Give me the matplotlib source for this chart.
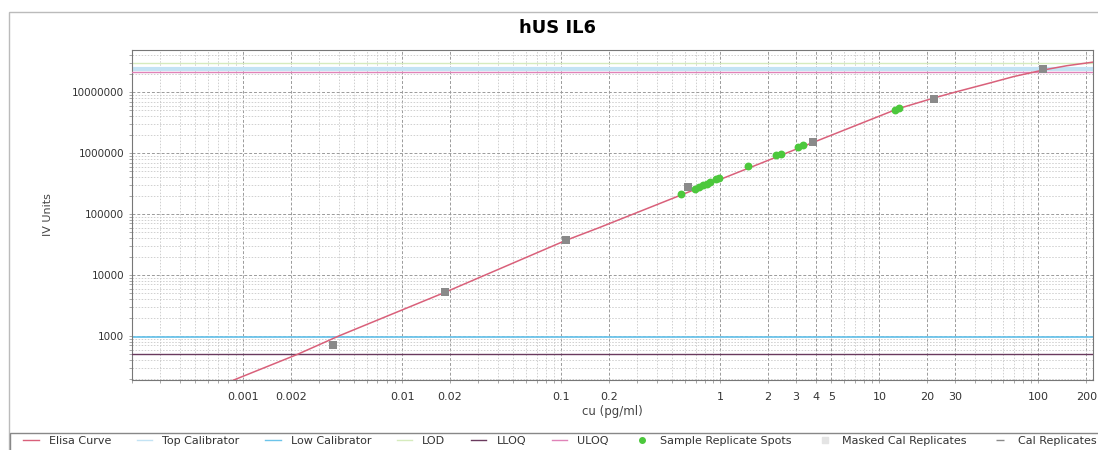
import numpy as np
import matplotlib.pyplot as plt
from matplotlib.patches import Rectangle
from matplotlib.lines import Line2D

# elisa curve (x in pg/ml, y in IV units)
curve_x = [7e-4, 0.0022, 0.004, 0.0186, 0.107, 0.171, 1.0, 3.85, 13, 22, 30, 50, 70, 107, 150, 220]
curve_y = [150, 500, 1000, 5200, 37000, 59000, 3.7e5, 1.5e6, 5.3e6, 8.0e6, 1.0e7, 1.42e7, 1.8e7, 2.3e7, 2.7e7, 3.1e7]

# calibrator replicates
cal_x = [0.0037, 0.0186, 0.107, 0.63, 3.85, 22, 107]
cal_y = [710, 5200, 37000, 2.8e5, 1.5e6, 7.7e6, 2.4e7]

# sample replicate spots
smp_x = [0.569, 0.696, 0.74, 0.782, 0.82, 0.865, 0.944, 0.98, 1.5, 2.25, 2.4, 3.09, 3.33, 12.5, 13.2]
smp_y = [2.13e5, 2.57e5, 2.75e5, 2.98e5, 3.15e5, 3.35e5, 3.75e5, 3.85e5, 6.1e5, 9.3e5, 9.6e5, 1.25e6, 1.35e6, 5.1e6, 5.4e6]

# horizontal limits
top_cal = 2.35e7
low_cal = 950
lod = 3.0e7
lloq = 500
uloq = 2.1e7

xticks = [0.001, 0.002, 0.01, 0.02, 0.1, 0.2, 1, 2, 3, 4, 5, 10, 20, 30, 100, 200]
xlabels = ["0.001", "0.002", "0.01", "0.02", "0.1", "0.2", "1", "2", "3", "4", "5", "10", "20", "30", "100", "200"]
yticks = [1000, 10000, 100000, 1000000, 10000000]

c_curve = "#d9607a"
c_top = "#c3e3f4"
c_low = "#6cc4ea"
c_lod = "#d6ebbd"
c_lloq = "#6a3a5e"
c_uloq = "#e083b8"
c_smp = "#4cc83c"
c_cal = "#8a8a8a"

fig = plt.figure(figsize=(10.98, 4.5), dpi=100)
ax = fig.add_axes([0.120, 0.1556, 0.8754, 0.7333])
ax.set_xscale("log")
ax.set_yscale("log")
ax.set_xlim(2e-4, 220)
ax.set_ylim(190, 4.9e7)

ax.axhline(top_cal, color=c_top, lw=3, zorder=2)
ax.axhline(lod, color=c_lod, lw=1, zorder=2)
ax.axhline(uloq, color=c_uloq, lw=1, zorder=3)
ax.axhline(low_cal, color=c_low, lw=1.3, zorder=2)
ax.axhline(lloq, color=c_lloq, lw=1, zorder=3)

ax.plot(curve_x, curve_y, color=c_curve, lw=1.1, zorder=4)
ax.scatter(cal_x, cal_y, s=26, marker="s", color=c_cal, zorder=5, linewidths=0)
ax.scatter(smp_x, smp_y, s=32, color=c_smp, zorder=6, linewidths=0)

ax.set_xticks(xticks)
ax.set_xticklabels(xlabels, fontsize=8, color="#333333")
ax.set_yticks(yticks)
ax.set_yticklabels([str(v) for v in yticks], fontsize=7.5, color="#333333")
ax.xaxis.set_minor_locator(plt.matplotlib.ticker.LogLocator(base=10, subs=np.arange(1, 10)))
ax.xaxis.set_minor_formatter(plt.NullFormatter())
ax.yaxis.set_minor_locator(plt.matplotlib.ticker.LogLocator(base=10, subs=np.arange(1, 10)))
ax.yaxis.set_minor_formatter(plt.NullFormatter())
ax.tick_params(which="both", length=2, color="#999999", width=0.6)
ax.tick_params(axis="x", pad=7)

ax.grid(which="major", color="#9a9a9a", ls=(0, (3, 2)), lw=0.7)
ax.grid(which="minor", color="#c4c4c4", ls=(0, (2, 2)), lw=0.55)
for s in ax.spines.values():
    s.set_color("#777777")
    s.set_linewidth(0.8)

ax.set_xlabel("cu (pg/ml)", fontsize=8.5, color="#444444", labelpad=2)
ax.set_ylabel("IV Units", fontsize=8, color="#444444", labelpad=14)
fig.text(0.508, 0.937, "hUS IL6", ha="center", va="center", fontsize=13, fontweight="bold")

# outer frame and legend box
fig.patches.append(Rectangle((0.008, -0.01), 1.0, 0.984, transform=fig.transFigure,
                             fill=False, ec="#bbbbbb", lw=1))
fig.patches.append(Rectangle((0.009, -0.01), 1.0, 0.048, transform=fig.transFigure,
                             fill=False, ec="#888888", lw=1))

handles = [
    Line2D([], [], color=c_curve, lw=1),
    Line2D([], [], color=c_top, lw=1),
    Line2D([], [], color=c_low, lw=1),
    Line2D([], [], color=c_lod, lw=1),
    Line2D([], [], color=c_lloq, lw=1),
    Line2D([], [], color=c_uloq, lw=1),
    Line2D([], [], ls="", marker="o", ms=4, color=c_smp),
    Line2D([], [], ls="", marker="s", ms=5, color="#e4e4e4"),
    Line2D([], [], ls="", marker="_", ms=6, color=c_cal),
]
names = ["Elisa Curve", "Top Calibrator", "Low Calibrator", "LOD", "LLOQ", "ULOQ",
         "Sample Replicate Spots", "Masked Cal Replicates", "Cal Replicates"]
fig.legend(handles, names, loc="lower left", bbox_to_anchor=(0.012, -0.014), ncol=9,
           frameon=False, fontsize=8, handlelength=1.4, handletextpad=0.9,
           columnspacing=2.3, labelcolor="#333333")

fig.savefig("out.png", dpi=100)
